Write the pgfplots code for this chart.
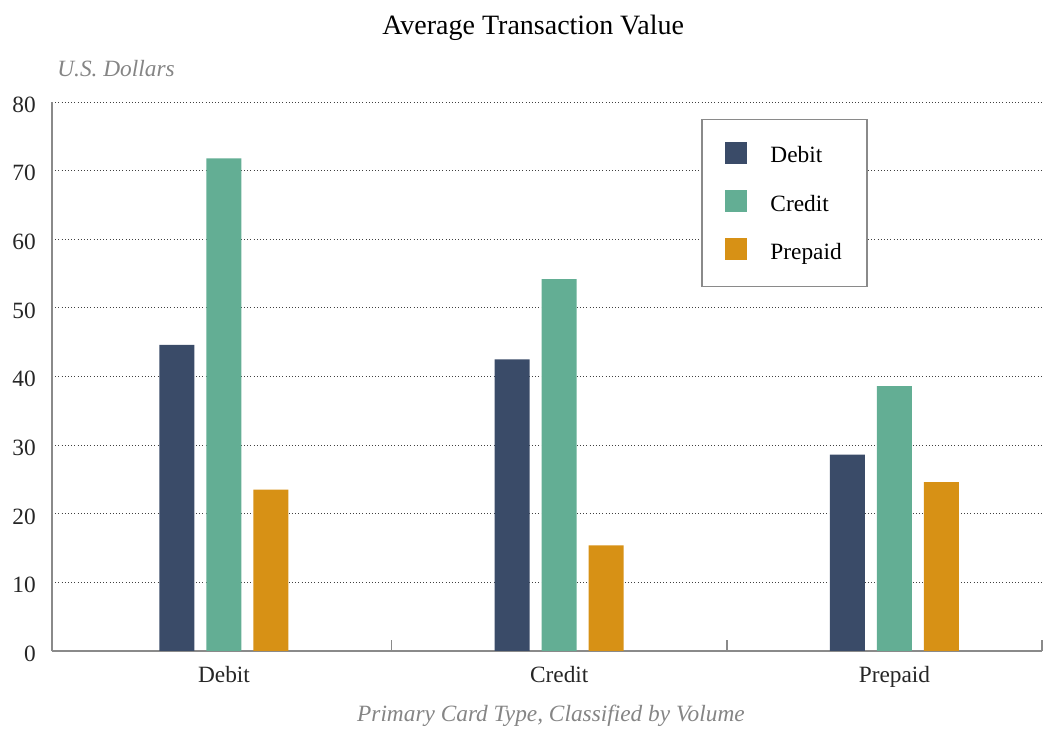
\documentclass[border=0pt]{standalone}
\usepackage{fontspec}
\setmainfont{Liberation Serif}
\usepackage{pgfplots}
\pgfplotsset{compat=1.18}
\definecolor{cdebit}{HTML}{3A4B68}
\definecolor{ccredit}{HTML}{63AE94}
\definecolor{cprepaid}{HTML}{D79115}
\definecolor{axgray}{HTML}{8A8A8A}
\definecolor{labgray}{HTML}{858585}
\begin{document}
\begin{tikzpicture}
\begin{axis}[
  scale only axis, width=742.5pt, height=411.75pt,
  xmin=-0.513, xmax=2.44, ymin=0, ymax=80,
  axis lines*=left,
  separate axis lines,
  every outer x axis line/.append style={draw=axgray, line width=2.2pt},
  every outer y axis line/.append style={draw=axgray, line width=2.2pt},
  axis line style={draw=axgray, line width=2.2pt},
  ybar, bar width=26.25pt,
  ytick={0,10,...,80},
  xtick={0,1,2}, xticklabels={Debit,Credit,Prepaid},
  tick style={draw=none},
  extra x ticks={0.5,1.5,2.44}, extra x tick labels={},
  extra x tick style={tick style={draw=axgray, line width=1pt}, major tick length=8pt, tick align=inside, grid=none},
  ymajorgrids, grid style={dotted, black!75, line width=0.7pt},
  /pgf/number format/assume math mode=true,
  tick label style={font=\fontsize{17.5}{20}\selectfont, text=black!85},
  yticklabel style={inner sep=0pt, xshift=-12pt, yshift=-2pt},
  xticklabel style={inner sep=0pt, yshift=-7pt},
  legend style={at={(rel axis cs:0.656,0.969)}, anchor=north west,
    draw=axgray, line width=1pt, font=\fontsize{17.5}{20}\selectfont,
    inner xsep=17pt, inner ysep=14.5pt, row sep=12.5pt,
    nodes={inner sep=2pt, text height=15.75pt, text depth=4pt}},
  legend cell align=left,
  legend image code/.code={\fill[#1] (0pt,-6.5pt) rectangle (16.5pt,10pt);},
  clip=false,
]
\addplot[fill=cdebit, draw=none, bar shift=-35.25pt] coordinates {(0,44.6) (1,42.5) (2,28.6)};
\addplot[fill=ccredit, draw=none, bar shift=0pt] coordinates {(0,71.8) (1,54.2) (2,38.6)};
\addplot[fill=cprepaid, draw=none, bar shift=35.25pt] coordinates {(0,23.5) (1,15.4) (2,24.6)};
\legend{\hspace{15.75pt}Debit,\hspace{15.75pt}Credit,\hspace{15.75pt}Prepaid}
\node[font=\fontsize{21}{24}\selectfont] at ([yshift=56pt]rel axis cs:0.486,1) {Average Transaction Value};
\node[font=\fontsize{17.5}{20}\selectfont\itshape, text=labgray, anchor=west] at ([xshift=0.5pt,yshift=25pt]rel axis cs:0,1) {U.S. Dollars};
\node[font=\fontsize{17.5}{20}\selectfont\itshape, text=labgray] at ([yshift=-48.5pt]rel axis cs:0.504,0) {Primary Card Type, Classified by Volume};
\coordinate (sw) at (rel axis cs:0,0);
\end{axis}
\path (sw) ++(-39pt,-57pt) rectangle ++(788.25pt,545.25pt);
\end{tikzpicture}
\end{document}
